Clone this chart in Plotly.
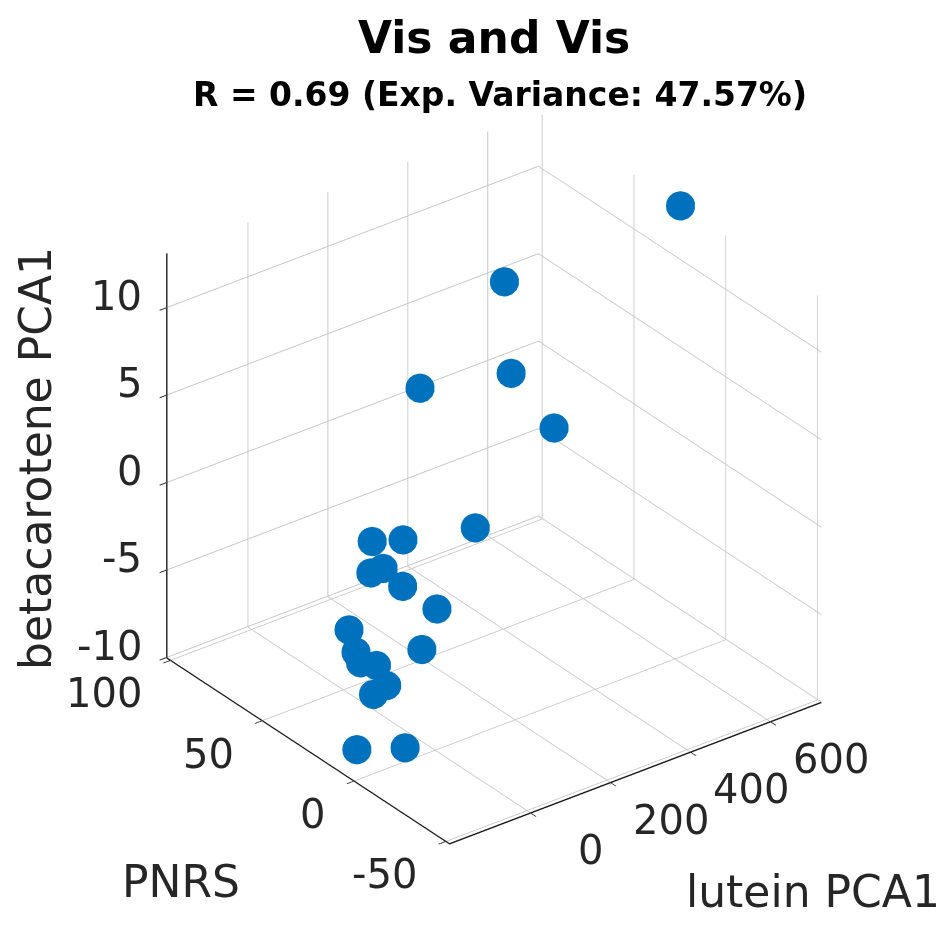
import plotly.graph_objects as go

# Data
lutein_pca1 = [727, 347, 226, 44, 241.5, -93.3, 108, 47.4, -79, 89.5, -45.4, -5.6,
               96, -89.2, -24.3, -127.7, 72.7, -108.2, -49.4, -196.7, -108.2]
pnrs = [24.8, 38, 8, 18, -12, -42, 58, 28, 18, 48, 8, -2,
        68, -12, 38, 13, 48, 3, 23, 0, -7]
betacarotene_pca1 = [13.09, 11.14, 9.03, 9.07, 7.15, 6.42, -3.01, -0.32, -0.42, -3.70, -0.79, -1.74,
                     -8.65, -2.64, -6.81, -4.79, -9.10, -5.57, -7.97, -8.26, -8.44]

x_ticks = [0, 200, 400, 600]
y_ticks = [-50, 0, 50, 100]
z_ticks = [-10, -5, 0, 5, 10]
x_range = [-203, 727]
y_range = [-52, 102]
z_range = [-10.03, 13.09]

title = "Vis and Vis"
subtitle = "R = 0.69 (Exp. Variance: 47.57%)"
x_label = "lutein PCA1"
y_label = "PNRS"
z_label = "betacarotene PCA1"

FONT = "DejaVu Sans"
TXT = "#262626"
GRID = "#c6c6c6"
BLUE = "#0072BD"

fig = go.Figure()
fig.add_trace(go.Scatter3d(
    x=lutein_pca1, y=pnrs, z=betacarotene_pca1, mode="markers",
    marker=dict(size=17, color=BLUE, line=dict(width=0), opacity=1),
    hoverinfo="skip", showlegend=False))

def ax(rng, ticks):
    return dict(range=rng, tickvals=ticks, showticklabels=False, title=dict(text=""),
                showgrid=True, gridcolor=GRID, gridwidth=2,
                showline=True, linecolor="#1a1a1a", linewidth=3,
                ticks="outside", ticklen=9, tickcolor=TXT, tickwidth=2,
                showbackground=False, zeroline=False, showspikes=False,
                autorange=False)

annots = []
for t in z_ticks:
    annots.append(dict(x=x_range[0], y=y_range[1], z=t, text=str(t), showarrow=False,
                       xanchor="right", yanchor="middle", xshift=-23, yshift=12,
                       font=dict(family=FONT, size=40, color=TXT)))
for t in y_ticks:
    annots.append(dict(x=x_range[0], y=t, z=z_range[0], text=str(t), showarrow=False,
                       xanchor="right", yanchor="middle", xshift=-27, yshift=-33,
                       font=dict(family=FONT, size=40, color=TXT)))
for t in x_ticks:
    annots.append(dict(x=t, y=y_range[0], z=z_range[0], text=str(t), showarrow=False,
                       xanchor="center", yanchor="middle", xshift=60, yshift=-37,
                       font=dict(family=FONT, size=40, color=TXT)))

sx = ax(x_range, x_ticks)
sy = ax(y_range, y_ticks)
sz = ax(z_range, z_ticks)

r = 2.0
fig.update_layout(
    width=945, height=945, margin=dict(l=0, r=0, t=0, b=0),
    paper_bgcolor="white", plot_bgcolor="white",
    scene=dict(
        domain=dict(x=[0.047, 0.999], y=[0.0, 0.988]),
        xaxis=sx, yaxis=sy, zaxis=sz,
        aspectmode="cube",
        camera=dict(projection=dict(type="orthographic"),
                    up=dict(x=0, y=0, z=1), center=dict(x=0, y=0, z=0),
                    eye=dict(x=-0.524 * r, y=-0.689 * r, z=0.5 * r)),
        annotations=annots,
        bgcolor="rgba(0,0,0,0)"),
    annotations=[
        dict(x=494 / 945, y=1 - 37 / 945, xref="paper", yref="paper", text="<b>" + title + "</b>",
             showarrow=False, xanchor="center", yanchor="middle",
             font=dict(family=FONT, size=44, color="black")),
        dict(x=500 / 945, y=1 - 94 / 945, xref="paper", yref="paper", text="<b>" + subtitle + "</b>",
             showarrow=False, xanchor="center", yanchor="middle",
             font=dict(family=FONT, size=33, color="black")),
        dict(x=181 / 945, y=1 - 881 / 945, xref="paper", yref="paper", text=y_label,
             showarrow=False, xanchor="center", yanchor="middle",
             font=dict(family=FONT, size=44, color=TXT)),
        dict(x=813 / 945, y=1 - 891 / 945, xref="paper", yref="paper", text=x_label,
             showarrow=False, xanchor="center", yanchor="middle",
             font=dict(family=FONT, size=44, color=TXT)),
        dict(x=35 / 945, y=1 - 459 / 945, xref="paper", yref="paper", text=z_label,
             showarrow=False, xanchor="center", yanchor="middle", textangle=-90,
             font=dict(family=FONT, size=44, color=TXT)),
    ],
)
fig.write_html("out.html")
